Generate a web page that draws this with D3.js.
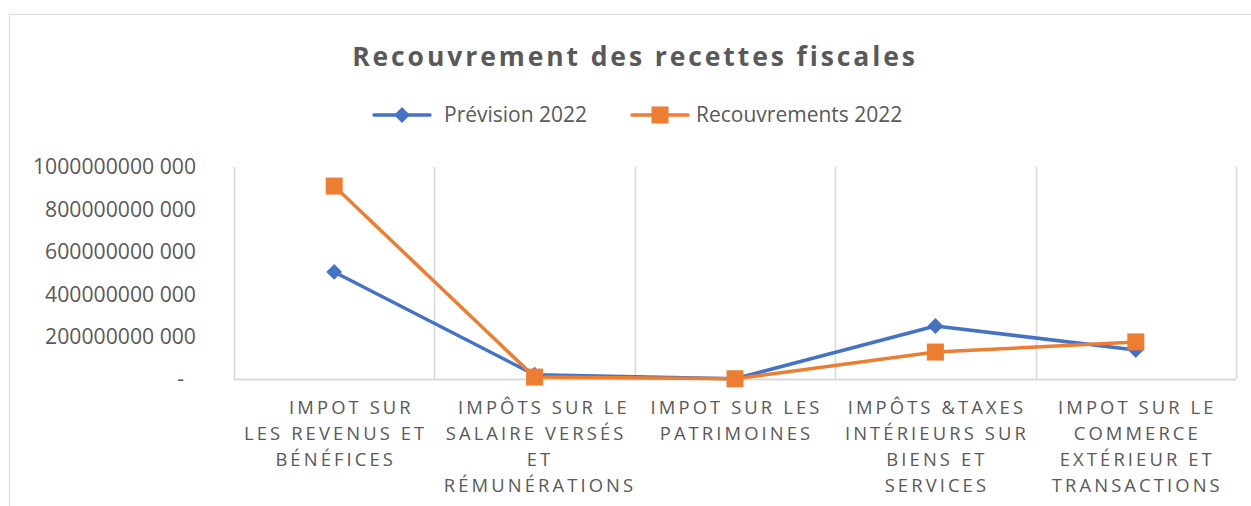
<!DOCTYPE html>
<html>
<head>
<meta charset="utf-8">
<script src="https://cdn.jsdelivr.net/npm/d3@7"></script>
<style>
    body { margin: 0; background: #fff; }
    svg { display: block; font-family: "Open Sans", sans-serif; }
    .cat { white-space: pre; }
</style>
</head>
<body>
<div id="chart"></div>
<script>
// categories, wrapped the way the original labels are wrapped (leading spaces kept)
const categories = [
    ["    IMPOT SUR", "LES REVENUS ET", "BÉNÉFICES"],
    ["  IMPÔTS SUR LE", "SALAIRE VERSÉS", " ET", " RÉMUNÉRATIONS"],
    ["IMPOT SUR LES", "PATRIMOINES"],
    ["IMPÔTS &TAXES", "INTÉRIEURS SUR", "BIENS ET", "SERVICES"],
    ["IMPOT SUR LE", "COMMERCE", "EXTÉRIEUR ET", "TRANSACTIONS"]
];
const prevision2022 = [505e9, 20e9, 1e9, 250e9, 137e9];
const recouvrements2022 = [910e9, 9e9, 1e9, 127e9, 175e9];
const yTicks = [0, 200e9, 400e9, 600e9, 800e9, 1000e9];

const width = 1251;
const height = 506;
const plotLeft = 234;
const plotRight = 1236;
const plotTop = 167;
const plotBottom = 379;
const grey = "#595959";

const series = [
    {name: "Prévision 2022", values: prevision2022, color: "#4472C4", marker: "diamond"},
    {name: "Recouvrements 2022", values: recouvrements2022, color: "#ED7D31", marker: "square"}
];

const svg = d3.select("#chart").append("svg")
    .attr("width", width)
    .attr("height", height);

// outer chart frame (runs off the page on the right and bottom)
svg.append("rect")
    .attr("x", 9.5).attr("y", 14.5)
    .attr("width", 1300).attr("height", 600)
    .attr("fill", "none")
    .attr("stroke", "#d9d9d9");

const x = d3.scaleBand()
    .domain(d3.range(categories.length))
    .range([plotLeft, plotRight])
    .padding(0);

const y = d3.scaleLinear()
    .domain([0, 1e12])
    .range([plotBottom, plotTop]);

const cx = i => x(i) + x.bandwidth() / 2;

// vertical gridlines at category edges
const edges = d3.range(categories.length).map(i => x(i)).concat([x.range()[1]]);
svg.append("g")
    .attr("stroke", "#d9d9d9")
    .attr("stroke-width", 1.6)
    .selectAll("line")
    .data(edges)
    .join("line")
    .attr("x1", d => Math.round(d) + 0.5)
    .attr("x2", d => Math.round(d) + 0.5)
    .attr("y1", plotTop)
    .attr("y2", plotBottom);

// horizontal axis line
svg.append("line")
    .attr("x1", plotLeft).attr("x2", plotRight)
    .attr("y1", y(0) + 0.5).attr("y2", y(0) + 0.5)
    .attr("stroke", "#d9d9d9")
    .attr("stroke-width", 1.8);

// y tick labels
const fmt = v => v === 0 ? "-" : `${Math.floor(v / 1000)} ${String(v % 1000).padStart(3, "0")}`;
svg.append("g")
    .selectAll("text")
    .data(yTicks)
    .join("text")
    .attr("x", d => d === 0 ? 184 : 196)
    .attr("y", d => y(d))
    .attr("dy", "0.35em")
    .attr("text-anchor", "end")
    .attr("fill", grey)
    .attr("font-size", 21.2)
    .text(fmt);

// category labels
const catLabels = svg.append("g")
    .selectAll("text")
    .data(categories)
    .join("text")
    .attr("class", "cat")
    .attr("text-anchor", "middle")
    .attr("fill", grey)
    .attr("font-size", 18.4)
    .attr("letter-spacing", 3.1);

catLabels.selectAll("tspan")
    .data((d, i) => d.map(line => ({line, i})))
    .join("tspan")
    .attr("x", d => cx(d.i) + 1.5)
    .attr("y", (d, j) => 414 + j * 26)
    .text(d => d.line);

// lines
const line = d3.line()
    .x((d, i) => cx(i))
    .y(d => y(d));

const diamond = d3.symbol().type(d3.symbolDiamond2).size(160);
const square = d3.symbol().type(d3.symbolSquare).size(290);

series.forEach(s => {
    const g = svg.append("g");
    g.append("path")
        .datum(s.values)
        .attr("fill", "none")
        .attr("stroke", s.color)
        .attr("stroke-width", 3.5)
        .attr("stroke-linejoin", "round")
        .attr("d", line);

    g.selectAll("path.marker")
        .data(s.values)
        .join("path")
        .attr("class", "marker")
        .attr("transform", (d, i) => `translate(${cx(i)}, ${y(d)})`)
        .attr("fill", s.color)
        .attr("d", s.marker === "diamond" ? diamond : square);
});

// title
svg.append("text")
    .attr("x", 635)
    .attr("y", 66)
    .attr("text-anchor", "middle")
    .attr("fill", grey)
    .attr("font-size", 26.5)
    .attr("font-weight", "bold")
    .attr("letter-spacing", 2.9)
    .text("Recouvrement des recettes fiscales");

// legend
const legendPos = [374, 632];
const legend = svg.append("g")
    .selectAll("g")
    .data(series)
    .join("g")
    .attr("transform", (d, i) => `translate(${legendPos[i]}, 115)`);

legend.append("line")
    .attr("x1", 0).attr("x2", 56)
    .attr("stroke", d => d.color)
    .attr("stroke-width", 3.5)
    .attr("stroke-linecap", "round");

legend.append("path")
    .attr("transform", "translate(28, 0)")
    .attr("fill", d => d.color)
    .attr("d", d => d.marker === "diamond" ? diamond() : square());

legend.append("text")
    .attr("x", (d, i) => i === 0 ? 70 : 64)
    .attr("dy", "0.35em")
    .attr("fill", grey)
    .attr("font-size", 21)
    .text(d => d.name);
</script>
</body>
</html>
